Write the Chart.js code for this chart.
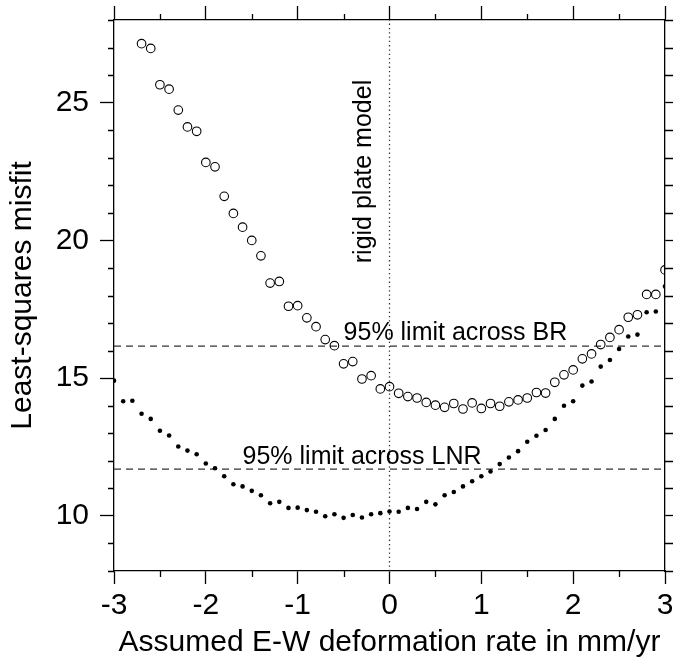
<!DOCTYPE html>
<html>
<head>
<meta charset="utf-8">
<script src="https://cdn.jsdelivr.net/npm/chart.js@4.4.1/dist/chart.umd.min.js"></script>
<style>
  html, body { margin: 0; padding: 0; background: #fff; }
  canvas { display: block; }
</style>
</head>
<body>
<canvas id="misfit" width="673" height="669"></canvas>
<script>
// assumed E-W deformation rate (mm/yr)
const rates = [
  -3.0, -2.9, -2.8, -2.7, -2.6, -2.5, -2.4, -2.3, -2.2, -2.1,
  -2.0, -1.9, -1.8, -1.7, -1.6, -1.5, -1.4, -1.3, -1.2, -1.1,
  -1.0, -0.9, -0.8, -0.7, -0.6, -0.5, -0.4, -0.3, -0.2, -0.1,
  0.0, 0.1, 0.2, 0.3, 0.4, 0.5, 0.6, 0.7, 0.8, 0.9,
  1.0, 1.1, 1.2, 1.3, 1.4, 1.5, 1.6, 1.7, 1.8, 1.9,
  2.0, 2.1, 2.2, 2.3, 2.4, 2.5, 2.6, 2.7, 2.8, 2.9, 3.0,
];

// misfit across BR (open circles), off the top of the plot for the first three
const misfitBR = [
  null, null, null, 27.14, 26.97, 25.65, 25.49, 24.73, 24.12, 23.96,
  22.83, 22.67, 21.60, 20.98, 20.48, 20.00, 19.44, 18.45, 18.51, 17.61,
  17.63, 17.19, 16.87, 16.40, 16.18, 15.52, 15.60, 14.97, 15.09, 14.61,
  14.69, 14.45, 14.33, 14.28, 14.12, 14.02, 13.94, 14.08, 13.88, 14.10,
  13.90, 14.08, 13.98, 14.14, 14.21, 14.28, 14.48, 14.46, 14.85, 15.12,
  15.30, 15.70, 15.88, 16.22, 16.48, 16.76, 17.21, 17.30, 18.04, 18.04, 18.93,
];

// misfit across LNR (filled dots)
const misfitLNR = [
  14.91, 14.16, 14.18, 13.71, 13.52, 13.09, 12.92, 12.52, 12.37, 12.24,
  11.90, 11.73, 11.44, 11.15, 11.07, 10.91, 10.75, 10.46, 10.51, 10.29,
  10.30, 10.21, 10.15, 9.99, 10.06, 9.93, 10.03, 9.94, 10.06, 10.10,
  10.16, 10.15, 10.29, 10.25, 10.51, 10.42, 10.75, 10.87, 11.07, 11.26,
  11.44, 11.61, 11.88, 12.12, 12.35, 12.69, 12.91, 13.12, 13.52, 14.00,
  14.16, 14.73, 14.88, 15.42, 15.66, 16.06, 16.51, 16.58, 17.39, 17.42, 18.33,
];

// 95% limits
const limitBR = 16.16;
const limitLNR = 11.7;

const xRange = [-3, 3];
const yRange = [8, 28];

const FONT = '"Liberation Sans", Arial, Helvetica, sans-serif';

function points(values) {
  return rates.map((r, i) => ({ x: r, y: values[i] }));
}

// minor ticks (half units on x, single units on y) drawn short
const minorTicks = {
  id: "minorTicks",
  afterDraw(chart) {
    const { ctx, chartArea: a, scales } = chart;
    ctx.save();
    ctx.strokeStyle = "#000";
    ctx.lineWidth = 1.3;
    ctx.beginPath();
    scales.x.ticks.forEach((t) => {
      if (Number.isInteger(t.value)) return;
      const px = Math.round(scales.x.getPixelForValue(t.value)) + 0.5;
      ctx.moveTo(px, a.bottom);
      ctx.lineTo(px, a.bottom + 6);
      ctx.moveTo(px, a.top);
      ctx.lineTo(px, a.top - 6);
    });
    scales.y.ticks.forEach((t) => {
      if (t.value % 5 === 0) return;
      const py = Math.round(scales.y.getPixelForValue(t.value)) + 0.5;
      ctx.moveTo(a.left, py);
      ctx.lineTo(a.left - 6, py);
      ctx.moveTo(a.right, py);
      ctx.lineTo(a.right + 9, py);
    });
    ctx.stroke();
    ctx.restore();
  },
};

// text labels
const notes = {
  id: "notes",
  afterDatasetsDraw(chart) {
    const { ctx, scales } = chart;
    const x = scales.x, y = scales.y;
    ctx.save();
    ctx.fillStyle = "#000";
    ctx.font = "25px " + FONT;
    ctx.textBaseline = "alphabetic";
    ctx.textAlign = "left";
    ctx.fillText("95% limit across BR", x.getPixelForValue(-0.5), y.getPixelForValue(limitBR) - 6);
    ctx.fillText("95% limit across LNR", x.getPixelForValue(-1.6), y.getPixelForValue(limitLNR) - 5);
    ctx.translate(x.getPixelForValue(0) - 19, y.getPixelForValue(22.5));
    ctx.rotate(-Math.PI / 2);
    ctx.textAlign = "center";
    ctx.fillText("rigid plate model", 0, 0);
    ctx.restore();
  },
};

const isMajorX = (v) => Number.isInteger(v);
const isMajorY = (v) => v % 5 === 0;

function axisGrid(isMajor, len) {
  return {
    drawOnChartArea: false,
    drawTicks: true,
    tickLength: len,
    tickWidth: 1.3,
    tickColor: (c) => (c.tick && isMajor(c.tick.value) ? "#000" : "rgba(0,0,0,0)"),
  };
}

const border = { display: true, color: "#000", width: 1.3 };

// fixed box sizes, no label overhang padding
function fixSize(dim, size) {
  return (s) => {
    s[dim] = size;
    s.paddingTop = 0;
    s.paddingBottom = 0;
    s.paddingLeft = 0;
    s.paddingRight = 0;
  };
}

new Chart(document.getElementById("misfit"), {
  type: "scatter",
  data: {
    datasets: [
      {
        label: "BR",
        data: points(misfitBR),
        pointStyle: "circle",
        pointRadius: 4.3,
        backgroundColor: "rgba(0,0,0,0)",
        borderColor: "#000",
        borderWidth: 1.1,
        showLine: false,
      },
      {
        label: "LNR",
        data: points(misfitLNR),
        pointStyle: "circle",
        pointRadius: 2.3,
        backgroundColor: "#000",
        borderColor: "#000",
        borderWidth: 0,
        showLine: false,
      },
      {
        label: "limit BR",
        data: [{ x: xRange[0], y: limitBR }, { x: xRange[1], y: limitBR }],
        showLine: true,
        borderColor: "#333",
        borderWidth: 1.3,
        borderDash: [7, 5],
        pointRadius: 0,
      },
      {
        label: "limit LNR",
        data: [{ x: xRange[0], y: limitLNR }, { x: xRange[1], y: limitLNR }],
        showLine: true,
        borderColor: "#333",
        borderWidth: 1.3,
        borderDash: [7, 5],
        pointRadius: 0,
      },
      {
        label: "rigid plate model",
        data: [{ x: 0, y: yRange[0] }, { x: 0, y: yRange[1] }],
        showLine: true,
        borderColor: "#333",
        borderWidth: 1.3,
        borderDash: [1.3, 3],
        pointRadius: 0,
      },
    ],
  },
  options: {
    responsive: false,
    animation: false,
    events: [],
    layout: { padding: 0 },
    plugins: {
      legend: { display: false },
      tooltip: { enabled: false },
    },
    scales: {
      x: {
        type: "linear",
        position: "bottom",
        min: xRange[0],
        max: xRange[1],
        border: border,
        grid: axisGrid(isMajorX, 13),
        ticks: {
          stepSize: 0.5,
          autoSkip: false,
          maxRotation: 0,
          padding: 4,
          color: "#000",
          font: { family: FONT, size: 30 },
          callback: (v) => (isMajorX(v) ? String(v) : ""),
        },
        title: {
          display: true,
          text: "Assumed E-W deformation rate in mm/yr",
          color: "#000",
          font: { family: FONT, size: 30 },
          padding: { top: 0, bottom: 8 },
        },
        afterFit: fixSize("height", 98),
      },
      x2: {
        type: "linear",
        position: "top",
        min: xRange[0],
        max: xRange[1],
        border: border,
        grid: axisGrid(isMajorX, 14),
        ticks: { stepSize: 0.5, display: false },
        afterFit: fixSize("height", 20),
      },
      y: {
        type: "linear",
        position: "left",
        min: yRange[0],
        max: yRange[1],
        border: border,
        grid: axisGrid(isMajorY, 14),
        ticks: {
          stepSize: 1,
          autoSkip: false,
          padding: 11,
          color: "#000",
          font: { family: FONT, size: 30 },
          callback: (v) => (isMajorY(v) ? String(v) : ""),
        },
        title: {
          display: true,
          text: "Least-squares misfit",
          color: "#000",
          font: { family: FONT, size: 30 },
          padding: { top: 5, bottom: 0 },
        },
        afterFit: fixSize("width", 114),
      },
      y2: {
        type: "linear",
        position: "right",
        min: yRange[0],
        max: yRange[1],
        border: border,
        grid: axisGrid(isMajorY, 14),
        ticks: { stepSize: 1, display: false },
        afterFit: fixSize("width", 8),
      },
    },
  },
  plugins: [minorTicks, notes],
});
</script>
</body>
</html>
